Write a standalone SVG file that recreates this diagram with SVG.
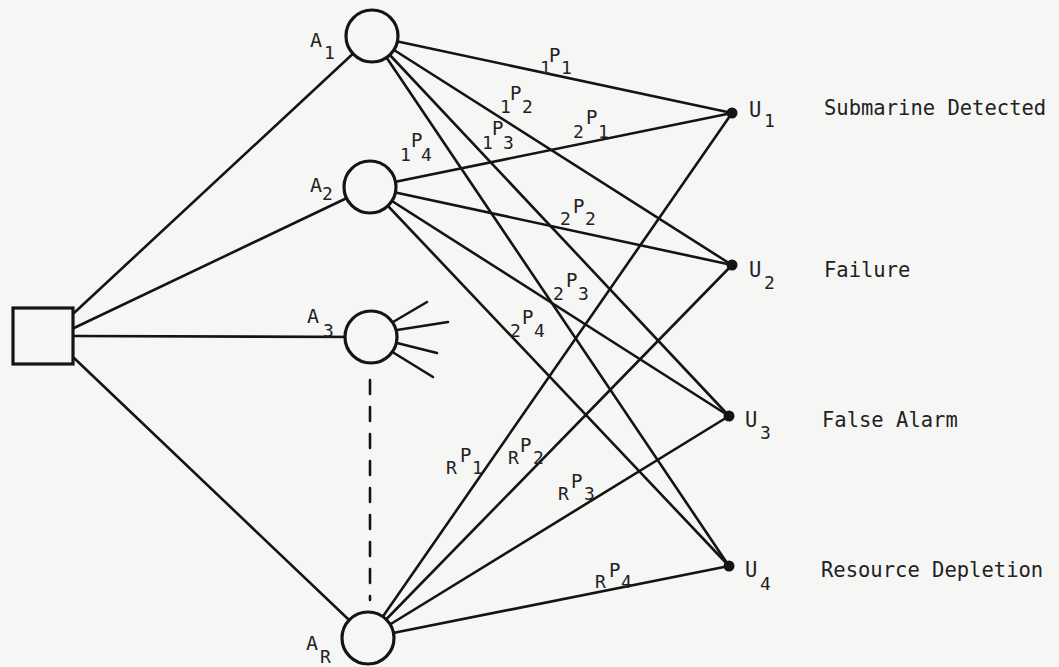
<svg xmlns="http://www.w3.org/2000/svg" width="1059" height="667" viewBox="0 0 1059 667">
<style>
.ln{stroke:#141414;stroke-width:2.6;fill:none;stroke-linecap:round}
.nd{stroke:#141414;stroke-width:3.2;fill:#f6f6f4}
.t{font-family:"DejaVu Sans Mono","Liberation Mono",monospace;fill:#222}
.big{font-size:20.5px}
.lab{font-size:20px}
.p{font-size:19px}
.s{font-size:18px}
</style>
<rect width="1059" height="667" fill="#f6f6f4"/>
<g id="connectors">
<line class="ln" x1="74" y1="313" x2="372" y2="36"/>
<line class="ln" x1="74" y1="328" x2="370" y2="187"/>
<line class="ln" x1="74" y1="336" x2="371" y2="337"/>
<line class="ln" x1="74" y1="358" x2="368" y2="638"/>
<line class="ln" x1="372" y1="36" x2="732" y2="113"/>
<line class="ln" x1="372" y1="36" x2="732" y2="265"/>
<line class="ln" x1="372" y1="36" x2="729" y2="416"/>
<line class="ln" x1="372" y1="36" x2="729" y2="566"/>
<line class="ln" x1="370" y1="187" x2="732" y2="113"/>
<line class="ln" x1="370" y1="187" x2="732" y2="265"/>
<line class="ln" x1="370" y1="187" x2="729" y2="416"/>
<line class="ln" x1="370" y1="187" x2="729" y2="566"/>
<line class="ln" x1="368" y1="638" x2="732" y2="113"/>
<line class="ln" x1="368" y1="638" x2="732" y2="265"/>
<line class="ln" x1="368" y1="638" x2="729" y2="416"/>
<line class="ln" x1="368" y1="638" x2="729" y2="566"/>
<line class="ln" x1="393" y1="322" x2="427" y2="302"/>
<line class="ln" x1="397" y1="330" x2="448" y2="322"/>
<line class="ln" x1="397" y1="343" x2="437" y2="353"/>
<line class="ln" x1="394" y1="353" x2="433" y2="377"/>
<line class="ln" x1="370" y1="380" x2="370" y2="600" stroke-width="3" stroke-dasharray="14 13" stroke-linecap="butt"/>
</g>
<g id="labels-p" class="t">
<text class="s" x="540" y="74">1</text><text class="p" x="549" y="62">P</text><text class="s" x="561" y="74">1</text>
<text class="s" x="500" y="113">1</text><text class="p" x="510" y="100">P</text><text class="s" x="522" y="113">2</text>
<text class="s" x="482" y="149">1</text><text class="p" x="492" y="135">P</text><text class="s" x="503" y="149">3</text>
<text class="s" x="400" y="161">1</text><text class="p" x="411" y="147">P</text><text class="s" x="421" y="161">4</text>
<text class="s" x="573" y="138">2</text><text class="p" x="586" y="124">P</text><text class="s" x="598" y="138">1</text>
<text class="s" x="560" y="225">2</text><text class="p" x="573" y="213">P</text><text class="s" x="585" y="225">2</text>
<text class="s" x="553" y="300">2</text><text class="p" x="566" y="287">P</text><text class="s" x="578" y="300">3</text>
<text class="s" x="510" y="337">2</text><text class="p" x="522" y="324">P</text><text class="s" x="534" y="337">4</text>
<text class="s" x="446" y="474">R</text><text class="p" x="460" y="462">P</text><text class="s" x="472" y="474">1</text>
<text class="s" x="508" y="464">R</text><text class="p" x="520" y="452">P</text><text class="s" x="533" y="464">2</text>
<text class="s" x="558" y="500">R</text><text class="p" x="571" y="488">P</text><text class="s" x="584" y="500">3</text>
<text class="s" x="595" y="588">R</text><text class="p" x="609" y="577">P</text><text class="s" x="621" y="588">4</text>
</g>
<g id="source"><rect class="nd" x="13" y="308" width="60" height="56"/></g>
<g id="A1"><circle class="nd" cx="372" cy="36" r="26"/><text class="t lab" x="310" y="47">A</text><text class="t s" x="324" y="59">1</text></g>
<g id="A2"><circle class="nd" cx="370" cy="187" r="26"/><text class="t lab" x="310" y="192">A</text><text class="t s" x="322" y="200">2</text></g>
<g id="A3"><circle class="nd" cx="371" cy="337" r="26"/><text class="t lab" x="307" y="323">A</text><text class="t s" x="323" y="337">3</text></g>
<g id="AR"><circle class="nd" cx="368" cy="638" r="26"/><text class="t lab" x="306" y="650">A</text><text class="t s" x="320" y="663">R</text></g>
<g id="U1"><circle cx="732" cy="113" r="5.5" fill="#141414"/><text class="t big" x="749" y="117">U</text><text class="t s" x="764" y="127">1</text><text class="t big" x="824" y="115">Submarine Detected</text></g>
<g id="U2"><circle cx="732" cy="265" r="5.5" fill="#141414"/><text class="t big" x="749" y="277">U</text><text class="t s" x="764" y="289">2</text><text class="t big" x="824" y="277">Failure</text></g>
<g id="U3"><circle cx="729" cy="416" r="5.5" fill="#141414"/><text class="t big" x="745" y="427">U</text><text class="t s" x="760" y="439">3</text><text class="t big" x="822" y="427">False Alarm</text></g>
<g id="U4"><circle cx="729" cy="566" r="5.5" fill="#141414"/><text class="t big" x="745" y="577">U</text><text class="t s" x="760" y="590">4</text><text class="t big" x="821" y="577">Resource Depletion</text></g>
</svg>
